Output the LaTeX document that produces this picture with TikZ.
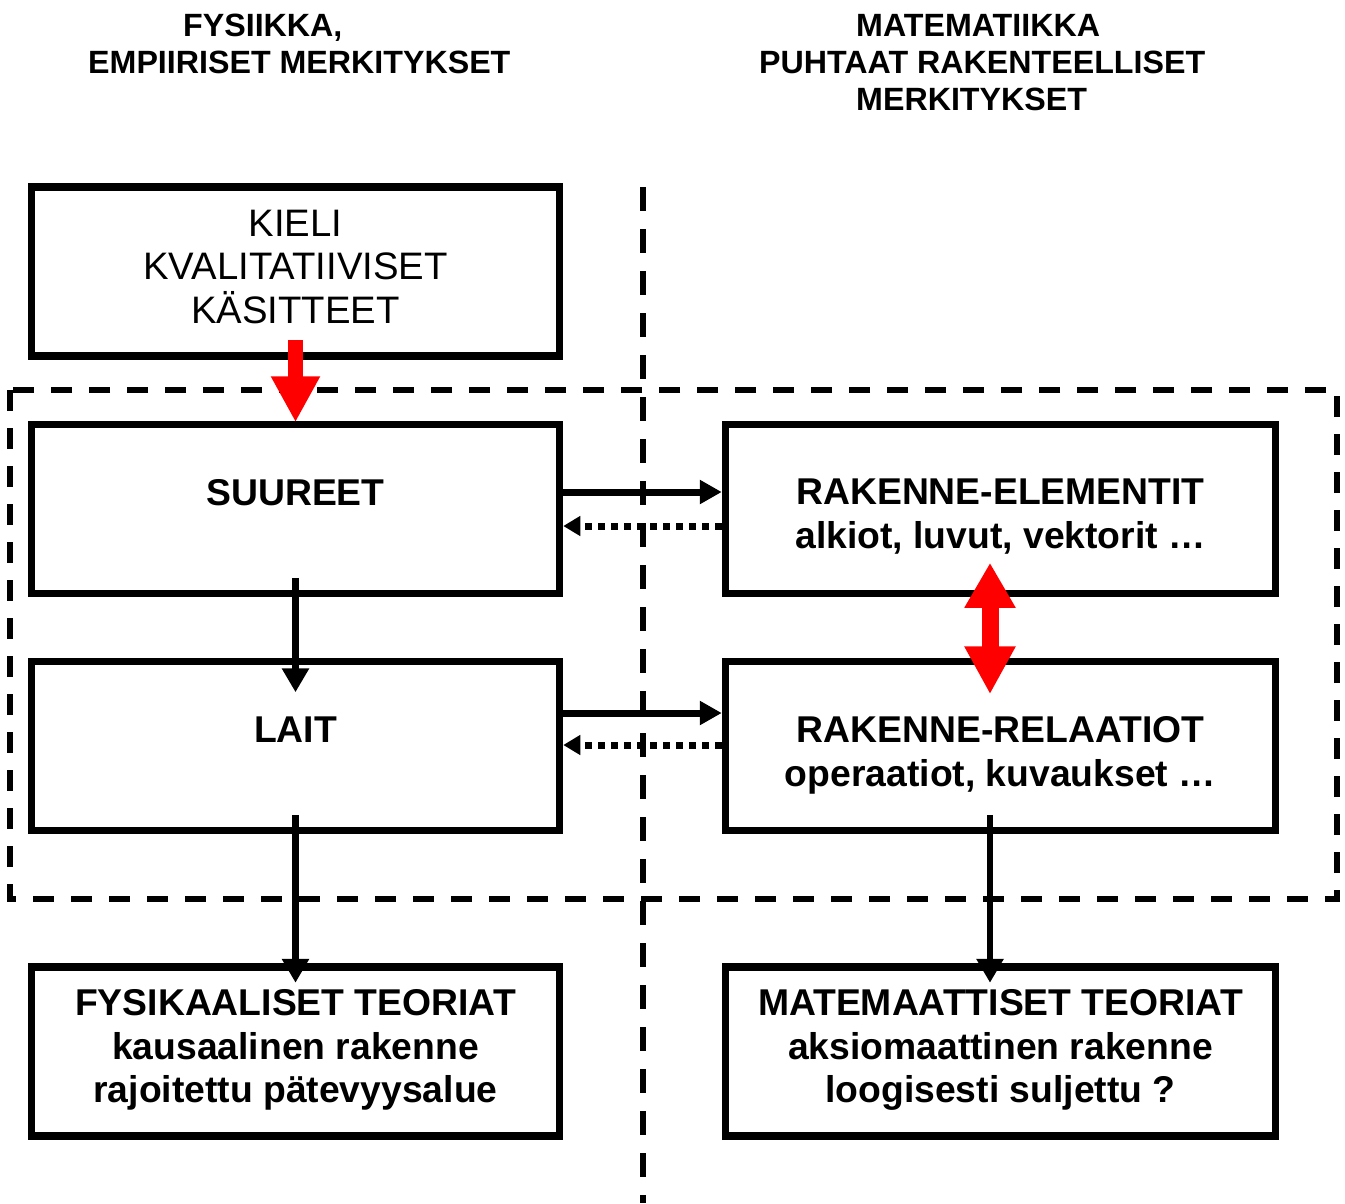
\documentclass[tikz,border=0pt]{standalone}
\usepackage{fontspec}
\setmainfont{Liberation Sans}
\usetikzlibrary{arrows.meta,calc}

\begin{document}
\begin{tikzpicture}[x=1pt,y=-1pt,
  box/.style={draw=black, line width=7.5pt, fill=white, inner sep=0pt,
    align=center, font=\fontsize{37.3}{43.5}\selectfont\bfseries},
  lbox/.style={box, minimum width=528pt, minimum height=169pt},
  rbox/.style={box, minimum width=550pt, minimum height=169pt},
  head/.style={font=\fontsize{32.2}{37}\selectfont\bfseries, anchor=base west, inner sep=0pt},
  flow/.style={line width=6.5pt, -{Triangle[width=26pt,length=24pt]}},
  link/.style={line width=7pt, -{Triangle[width=23pt,length=22pt]}},
  back/.style={line width=7pt, dash pattern=on 7pt off 6pt,
    -{Triangle[width=19pt,length=17pt]}},
  redflow/.style={draw=red, line width=15pt}
]
\useasboundingbox (0,0) rectangle (1345,1203);

% column headings
\node[head] (h1) at (183,36) {FYSIIKKA,};
\node[head] (h2) at (88,73) {EMPIIRISET MERKITYKSET};
\node[head] (h3) at (856,36) {MATEMATIIKKA};
\node[head] (h4) at (759,73) {PUHTAAT RAKENTEELLISET};
\node[head] (h5) at (856,110) {MERKITYKSET};

% separators: physics | mathematics, and the structural frame
\draw[line width=6.5pt, dash pattern=on 24pt off 18pt] (643,187) -- (643,1203);
\draw[line width=6pt, dash pattern=on 21pt off 17pt] (10,390) rectangle (1337,899);

% physics column
\node[lbox, font=\fontsize{38.3}{43.5}\selectfont, text height=103pt, text depth=0pt]
  (kieli) at (295.5,271.5) {KIELI\\KVALITATIIVISET\\KÄSITTEET};
\node[lbox, text height=0pt, text depth=7pt] (suureet) at (295.5,509) {SUUREET};
\node[lbox, text height=0pt, text depth=7pt] (lait) at (295.5,746) {LAIT};
\node[lbox, text height=102pt, text depth=0pt] (fysteor) at (295.5,1051.5)
  {FYSIKAALISET TEORIAT\\kausaalinen rakenne\\rajoitettu pätevyysalue};

% mathematics column
\node[rbox, text height=78pt, text depth=0pt] (elem) at (1000.5,509)
  {RAKENNE-ELEMENTIT\\alkiot, luvut, vektorit …};
\node[rbox, text height=80pt, text depth=0pt] (relaat) at (1000.5,746)
  {RAKENNE-RELAATIOT\\operaatiot, kuvaukset …};
\node[rbox, text height=102pt, text depth=0pt] (matteor) at (1000.5,1051.5)
  {MATEMAATTISET TEORIAT\\aksiomaattinen rakenne\\loogisesti suljettu ?};

% red arrows
\draw[redflow, -{Triangle[width=46pt,length=46pt]}]
  ($(kieli.south)+(0,-19.5)$) -- ($(suureet.north)+(0,1.5)$);
\draw[redflow, line width=17pt, {Triangle[width=48pt,length=45pt]}-{Triangle[width=48pt,length=48pt]}]
  ($(elem.south)+(-10.5,-34.5)$) -- ($(relaat.north)+(-10.5,36.5)$);

% vertical flow
\draw[flow] ($(suureet.south)+(0,-19.5)$) -- ($(lait.north)+(0,34.5)$);
\draw[flow] ($(lait.south)+(0,-19.5)$) -- ($(fysteor.north)+(0,19.5)$);
\draw[flow] ($(relaat.south)+(-10.5,-19.5)$) -- ($(matteor.north)+(-10.5,19.5)$);

% links between the columns
\draw[link] ($(suureet.east)+(0,-17)$) -- ($(elem.west)+(0,-17)$);
\draw[back] ($(elem.west)+(0,17)$) -- ($(suureet.east)+(0,17)$);
\draw[link] ($(lait.east)+(0,-33)$) -- ($(relaat.west)+(0,-33)$);
\draw[back] ($(relaat.west)+(0,-1)$) -- ($(lait.east)+(0,-1)$);
\end{tikzpicture}
\end{document}
